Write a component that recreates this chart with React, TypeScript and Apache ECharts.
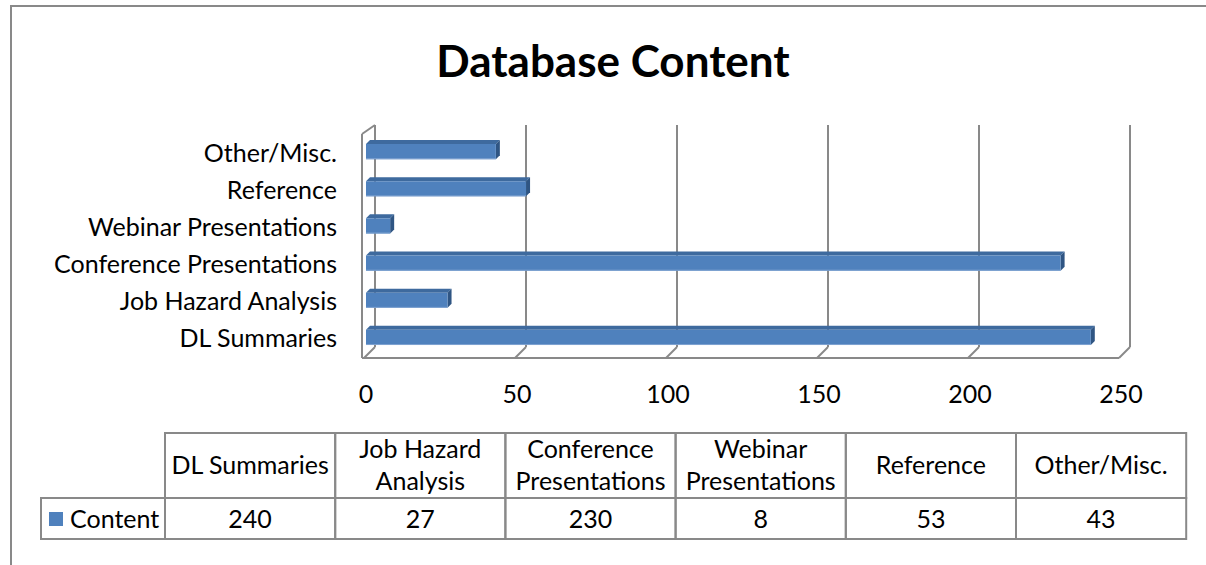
import React, { useEffect, useRef } from "react";
import * as echarts from "echarts";

const categories = [
  "DL Summaries",
  "Job Hazard Analysis",
  "Conference Presentations",
  "Webinar Presentations",
  "Reference",
  "Other/Misc.",
];
const contentValues = [240, 27, 230, 8, 53, 43];
const xTickValues = [0, 50, 100, 150, 200, 250];
const tableHeaderLines = [
  ["DL Summaries"],
  ["Job Hazard", "Analysis"],
  ["Conference", "Presentations"],
  ["Webinar", "Presentations"],
  ["Reference"],
  ["Other/Misc."],
];
const seriesName = "Content";
const chartTitle = "Database Content";

const FONT = "Lato";
const BLUE = "#4F81BD";
const GRAY = "#898989";

export default function App() {
  const ref = useRef<HTMLDivElement>(null);
  useEffect(() => {
    if (!ref.current) return;
    const chart = echarts.init(ref.current, undefined, { renderer: "svg" });

    const tableTop = 433;
    const headerH = 65;
    const rowH = 41;
    const tableLeft = 165;
    const colW = 170.2;
    const legendLeft = 41;
    const textStyleBase = { font: `25px ${FONT}`, fill: "#000" };

    const tableEls: any[] = [];
    categories.forEach((_, i) => {
      const x = tableLeft + i * colW;
      tableEls.push({
        type: "rect",
        shape: { x, y: tableTop, width: colW, height: headerH },
        style: { fill: "none", stroke: GRAY, lineWidth: 2 },
      });
      tableEls.push({
        type: "rect",
        shape: { x, y: tableTop + headerH, width: colW, height: rowH },
        style: { fill: "none", stroke: GRAY, lineWidth: 2 },
      });
      tableEls.push({
        type: "text",
        style: {
          ...textStyleBase,
          text: tableHeaderLines[i].join("\n"),
          x: x + colW / 2,
          y: tableTop + headerH / 2 - 1.5,
          align: "center",
          verticalAlign: "middle",
          lineHeight: 32,
        },
      });
      tableEls.push({
        type: "text",
        style: {
          ...textStyleBase,
          text: String(contentValues[i]),
          x: x + colW / 2,
          y: tableTop + headerH + rowH / 2 - 1,
          align: "center",
          verticalAlign: "middle",
        },
      });
    });
    tableEls.push({
      type: "rect",
      shape: { x: legendLeft, y: tableTop + headerH, width: tableLeft - legendLeft, height: rowH },
      style: { fill: "none", stroke: GRAY, lineWidth: 2 },
    });
    tableEls.push({
      type: "rect",
      shape: { x: 49, y: tableTop + headerH + 14, width: 14, height: 14 },
      style: { fill: BLUE },
    });
    tableEls.push({
      type: "text",
      style: {
        ...textStyleBase,
        text: seriesName,
        x: 70,
        y: tableTop + headerH + rowH / 2 - 1,
        align: "left",
        verticalAlign: "middle",
      },
    });

    const option: any = {
      animation: false,
      backgroundColor: "#fff",
      grid: { left: 366, top: 133, width: 755, height: 223, containLabel: false },
      xAxis: {
        type: "value",
        min: 0,
        max: 250,
        interval: 50,
        axisLine: { show: false },
        axisTick: { show: false },
        splitLine: { show: false },
        axisLabel: {
          margin: 24,
          color: "#000",
          fontFamily: FONT,
          fontSize: 25,
          formatter: (v: number) => (xTickValues.includes(v) ? String(v) : ""),
        },
      },
      yAxis: {
        type: "category",
        data: categories,
        axisLine: { show: false },
        axisTick: { show: false },
        splitLine: { show: false },
        axisLabel: {
          margin: 29,
          color: "#000",
          fontFamily: FONT,
          fontSize: 25,
          padding: [15, 0, 0, 0],
        },
      },
      graphic: [
        {
          type: "line",
          shape: { x1: 10, y1: 6, x2: 1210, y2: 6 },
          style: { stroke: GRAY, lineWidth: 2 },
          silent: true,
        },
        {
          type: "line",
          shape: { x1: 11, y1: 6, x2: 11, y2: 570 },
          style: { stroke: GRAY, lineWidth: 2 },
          silent: true,
        },
        {
          type: "text",
          style: {
            text: chartTitle,
            x: 613,
            y: 60,
            align: "center",
            verticalAlign: "middle",
            font: `bold 44px ${FONT}`,
            fill: "#000",
          },
        },
        ...tableEls,
      ],
      series: [
        {
          type: "custom",
          name: "frame",
          clip: false,
          silent: true,
          z: 1,
          data: xTickValues.map((v) => [v, 0]),
          encode: { x: 0, y: 1 },
          renderItem: (params: any, api: any) => {
            const cs = params.coordSys;
            const v = api.value(0);
            const cx = api.coord([v, 0])[0];
            const top = cs.y - 8;
            const bot = cs.y + cs.height - 9;
            const front = cs.y + cs.height + 2;
            const ls = { stroke: GRAY, lineWidth: 2, fill: "none" };
            const children: any[] = [
              { type: "line", shape: { x1: cx + 9, y1: top, x2: cx + 9, y2: bot }, style: ls },
              { type: "line", shape: { x1: cx + 9, y1: bot, x2: cx - 2, y2: front }, style: ls },
            ];
            if (params.dataIndex === 0) {
              children.push(
                { type: "line", shape: { x1: cs.x - 4, y1: cs.y + 1, x2: cs.x - 4, y2: front }, style: ls },
                { type: "line", shape: { x1: cs.x - 4, y1: cs.y + 1, x2: cs.x + 9, y2: top }, style: ls },
                { type: "line", shape: { x1: cs.x - 4, y1: front, x2: cs.x + cs.width - 2, y2: front }, style: ls }
              );
            }
            return { type: "group", children };
          },
        },
        {
          type: "custom",
          name: seriesName,
          clip: false,
          z: 2,
          data: contentValues.map((v, i) => [v, i]),
          encode: { x: 0, y: 1 },
          renderItem: (params: any, api: any) => {
            const v = api.value(0);
            const i = api.value(1);
            const s = api.coord([0, i]);
            const e = api.coord([v, i]);
            const band = api.size([0, 1])[1];
            const h = band * 0.41;
            const dx = 4;
            const dy = 4;
            const x0 = s[0];
            const x1 = e[0];
            const y0 = s[1] - h / 2;
            return {
              type: "group",
              children: [
                {
                  type: "polygon",
                  shape: { points: [[x0, y0], [x0 + dx, y0 - dy], [x1 + dx, y0 - dy], [x1, y0]] },
                  style: { fill: "#3E6A9E" },
                },
                {
                  type: "polygon",
                  shape: { points: [[x1, y0], [x1 + dx, y0 - dy], [x1 + dx, y0 + h - dy], [x1, y0 + h]] },
                  style: { fill: "#2F5583" },
                },
                {
                  type: "rect",
                  shape: { x: x0, y: y0, width: x1 - x0, height: h },
                  style: { fill: BLUE },
                },
                {
                  type: "line",
                  shape: { x1: x0, y1: y0 + h - 0.5, x2: x1, y2: y0 + h - 0.5 },
                  style: { stroke: "#7FA3D1", lineWidth: 1 },
                },
              ],
            };
          },
        },
      ],
    };
    chart.setOption(option);
    return () => chart.dispose();
  }, []);
  return (
    <div
      ref={ref}
      style={{ position: "fixed", left: 0, top: 0, width: 1206, height: 565, background: "#fff" }}
    />
  );
}
